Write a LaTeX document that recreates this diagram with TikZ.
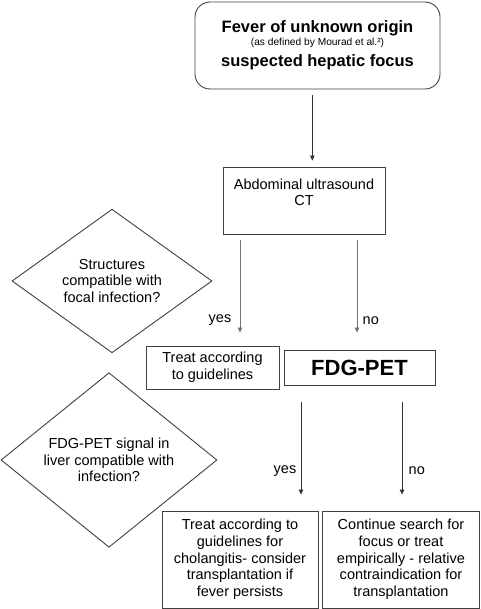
\documentclass[tikz,border=0pt]{standalone}
\usepackage{fontspec}
\setmainfont{Liberation Sans}
\usetikzlibrary{shapes.geometric,arrows.meta}
\begin{document}
\begin{tikzpicture}[x=1pt,y=-1pt,
  txt/.style={font=\fontsize{14.5}{16.7}\selectfont, align=center},
  box/.style={txt, draw=black!75, line width=0.9pt, inner sep=0pt},
  dia/.style={txt, diamond, draw=black!75, line width=0.9pt, inner sep=0pt},
  arr/.style={draw=black!80, line width=0.8pt, -{Triangle[length=5pt,width=4.5pt]}},
  arrg/.style={arr, draw=black!55},
  lab/.style={font=\fontsize{14.5}{16.7}\selectfont}]
\useasboundingbox (0,0) rectangle (480,609);

\node[box, rounded corners=15pt, minimum width=245pt, minimum height=87pt] (top) at (317.5,45.5)
  {{\fontsize{16.5}{14}\selectfont\bfseries Fever of unknown origin}\\[-3.7pt]
   {\fontsize{10.2}{12}\selectfont (as defined by Mourad et al.²)}\\[4.5pt]
   {\fontsize{16.5}{18}\selectfont\bfseries suspected hepatic focus}};

\node[box, minimum width=162pt, minimum height=67pt] (us) at (304,200.5)
  {Abdominal ultrasound\\CT\\\mbox{}};

\node[dia, minimum width=200pt, minimum height=106pt] (d1) at (112,281)
  {Structures\\compatible with\\focal infection?};

\node[box, minimum width=133pt, minimum height=43pt] (t1) at (212.5,367.5)
  {Treat according\\to guidelines};

\node[box, minimum width=151pt, minimum height=35pt, font=\fontsize{22}{24}\selectfont\bfseries] (fdg) at (359.5,367.5)
  {FDG-PET};

\node[dia, minimum width=216pt, minimum height=106pt] (d2) at (109,460)
  {FDG-PET signal in\\liver compatible with\\infection?};

\node[box, minimum width=156pt, minimum height=97pt] (t2) at (240,559.5)
  {Treat according to\\guidelines for\\cholangitis- consider\\transplantation if\\fever persists};

\node[box, minimum width=157pt, minimum height=97pt] (t3) at (401,559.5)
  {Continue search for\\focus or treat\\empirically - relative\\contraindication for\\transplantation};

\draw[arr] ([xshift=-5.2pt,yshift=-6pt]top.south) -- ([xshift=8.3pt,yshift=6pt]us.north);

\draw[arrg] ([xshift=-64pt,yshift=-6pt]us.south) -- node[lab, pos=0.87, left=5pt] {yes}
  ([xshift=27.5pt,yshift=13pt]t1.north);
\draw[arrg] ([xshift=53pt,yshift=-6pt]us.south) -- node[lab, pos=0.87, right=2pt] {no}
  ([xshift=-2.5pt,yshift=17pt]fdg.north);

\draw[arr] ([xshift=-58.5pt,yshift=-17pt]fdg.south) -- node[lab, pos=0.74, left=1pt] {yes}
  ([xshift=61pt,yshift=16pt]t2.north);
\draw[arr] ([xshift=42.5pt,yshift=-17pt]fdg.south) -- node[lab, pos=0.74, right=3pt] {no}
  ([xshift=1pt,yshift=16pt]t3.north);
\end{tikzpicture}
\end{document}
